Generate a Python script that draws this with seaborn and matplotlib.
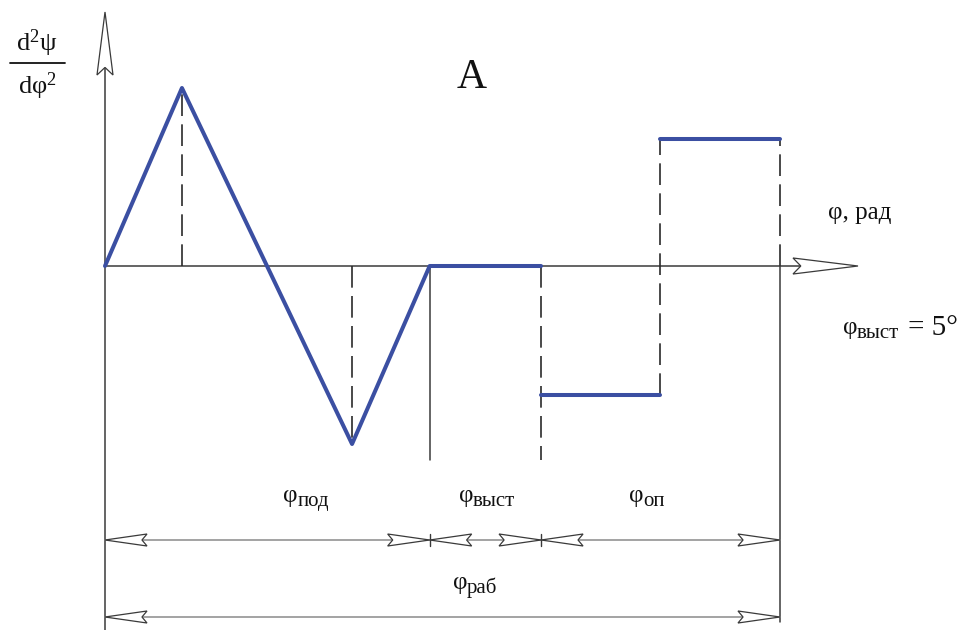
import numpy as np
import pandas as pd
import matplotlib.pyplot as plt
import seaborn as sns
from matplotlib.patches import Polygon

# Data: cam follower acceleration diagram (phi as fraction of phi_rab, d2psi normalised)
phi = [0.0, 0.114, 0.366, 0.481, 0.646, 0.646, 0.822, 0.822, 1.0]
acc = [0.0, 1.0, -1.0, 0.0, 0.0, -0.725, -0.725, 0.715, 0.715]
seg = [0, 0, 0, 0, 0, 1, 1, 2, 2]

PHI = 'φ'
span_subs = ['под', 'выст', 'оп']
total_sub = 'раб'
title_text = 'A'
x_axis_text = PHI + ', рад'
dwell_note = '= 5°'

df = pd.DataFrame({'phi': phi, 'acc': acc, 'seg': seg})

# pixel <-> data helpers (origin of the diagram at pixel 105, 266)
X0, Y0, SX, SY = 105, 266, 675, 178


def X(p):
    return (p - X0) / SX


def Y(p):
    return (Y0 - p) / SY


def PX(x):
    return X0 + SX * x


sns.set_style('white')
plt.rcParams['font.family'] = ['Liberation Serif', 'DejaVu Serif']
plt.rcParams['mathtext.fontset'] = 'custom'
plt.rcParams['mathtext.rm'] = 'Liberation Serif'
plt.rcParams['mathtext.it'] = 'Liberation Serif:italic'

fig = plt.figure(figsize=(9.72, 6.3), dpi=100)
ax = fig.add_axes([0, 0, 1, 1])
ax.set_xlim(X(0), X(972))
ax.set_ylim(Y(630), Y(0))
ax.axis('off')

axis_c = '#3a3a3a'
dim_c = '#8a8a8a'
blue = '#3b4fa2'


def hollow_arrow(tx, ty, dx, dy, L, w, ec=axis_c):
    # tip at pixel (tx, ty), pointing along (dx, dy)
    nx, ny = -dy, dx
    n = 0.12 * L
    local = [(0, 0), (-L, w), (-L + n, 0), (-L, -w)]
    pts = [(X(tx + a * dx + b * nx), Y(ty + a * dy + b * ny)) for a, b in local]
    ax.add_patch(Polygon(pts, closed=True, facecolor='white', edgecolor=ec,
                         linewidth=0.9, zorder=4))


dash = dict(color='#2a2a2a', linewidth=1.2, linestyle=(0, (13, 5)), zorder=2)
solid = dict(color=axis_c, linewidth=1.1, zorder=2)
guide_bottom = Y(460)

# axes
ax.plot([0, 0], [Y(630), Y(20)], **solid)
ax.plot([0, X(850)], [0, 0], **solid)
hollow_arrow(105, 12, 0, -1, 63, 8)
hollow_arrow(858, 266, 1, 0, 65, 8)

# guide lines
ax.plot([phi[1]] * 2, [0, acc[1]], **dash)
ax.plot([phi[2]] * 2, [0, acc[2]], **dash)
ax.plot([phi[4]] * 2, [0, guide_bottom], **dash)
ax.plot([phi[6]] * 2, [acc[5], acc[7]], **dash)
ax.plot([phi[8]] * 2, [0, acc[8]], **dash)
ax.plot([phi[3]] * 2, [0, guide_bottom], **solid)
ax.plot([phi[8]] * 2, [Y(622), 0], **solid)

# curve
sns.lineplot(data=df, x='phi', y='acc', units='seg', estimator=None, sort=False,
             color=blue, linewidth=2.9, ax=ax, zorder=3)
ax.set_xlabel('')
ax.set_ylabel('')

# dimension lines
y1, y2 = 540, 617
ax.plot([0, phi[8]], [Y(y1)] * 2, color=dim_c, linewidth=1.1, zorder=2)
ax.plot([0, phi[8]], [Y(y2)] * 2, color=dim_c, linewidth=1.1, zorder=2)
for xb in [phi[3], phi[4]]:
    ax.plot([xb] * 2, [Y(y1 - 6), Y(y1 + 6)], color=axis_c, linewidth=1.0, zorder=5)
    hollow_arrow(PX(xb), y1, 1, 0, 42, 6)
    hollow_arrow(PX(xb), y1, -1, 0, 42, 6)
for yy in [y1, y2]:
    hollow_arrow(PX(0), yy, -1, 0, 42, 6)
    hollow_arrow(PX(phi[8]), yy, 1, 0, 42, 6)

txt = dict(color='#111111', va='baseline')


def phi_label(xj, yb, sub, size=18, sub_size=15):
    ax.text(X(xj), Y(yb), PHI, ha='right', fontsize=size, **txt)
    ax.text(X(xj), Y(yb + 4), sub, ha='left', fontsize=sub_size, **txt)


phi_label(298, 502, span_subs[0])
phi_label(473, 502, span_subs[1])
phi_label(643, 502, span_subs[2])
phi_label(467, 589, total_sub)
phi_label(857, 334, span_subs[1])
ax.text(X(908), Y(335), dwell_note, ha='left', fontsize=21, **txt)

ax.text(X(828), Y(219), x_axis_text, ha='left', fontsize=18, **txt)
ax.text(X(472), Y(88), title_text, ha='center', fontsize=30, **txt)

# y-axis label as a fraction
ax.text(X(37), Y(51), 'd$^2$ψ', ha='center', fontsize=19, **txt)
ax.plot([X(10), X(65)], [Y(63)] * 2, color='#111111', linewidth=1.3)
ax.text(X(37), Y(94), 'd' + PHI + '$^2$', ha='center', fontsize=19, **txt)

fig.savefig('out.png', dpi=100)
